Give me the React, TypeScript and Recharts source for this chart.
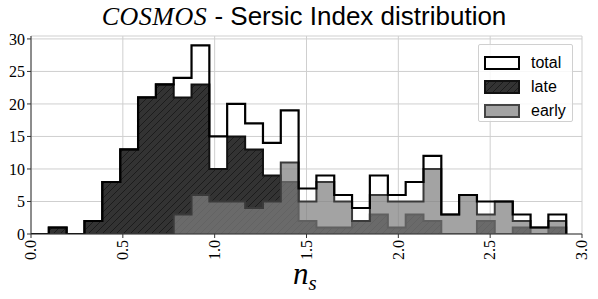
import React from 'react';
import { ComposedChart, Area, XAxis, YAxis, CartesianGrid } from 'recharts';

// Histogram bin edges (n_s)
const binEdges = [
  0, 0.097, 0.194, 0.291, 0.388, 0.486, 0.583, 0.68, 0.777, 0.874, 0.971,
  1.068, 1.166, 1.263, 1.36, 1.457, 1.554, 1.651, 1.748, 1.845, 1.943,
  2.04, 2.137, 2.234, 2.331, 2.428, 2.525, 2.623, 2.72, 2.817, 2.914,
];
// Counts per bin
const totalCounts = [0, 1, 0, 2, 8, 13, 21, 23, 24, 29, 15, 20, 17, 14, 19, 7, 9, 6, 4, 9, 6, 8, 12, 3, 6, 5, 5, 3, 1, 3];
const lateCounts = [0, 1, 0, 2, 8, 13, 21, 23, 21, 23, 10, 15, 13, 9, 8, 2, 1, 1, 2, 3, 1, 3, 2, 0, 0, 2, 0, 1, 0, 1];
const earlyCounts = [0, 0, 0, 0, 0, 0, 0, 0, 3, 6, 5, 5, 4, 5, 11, 5, 8, 5, 2, 6, 5, 5, 10, 3, 6, 3, 5, 2, 1, 2];

const xTicks = [0, 0.5, 1.0, 1.5, 2.0, 2.5, 3.0];
const yTicks = [0, 5, 10, 15, 20, 25, 30];
const legendLabels = ['total', 'late', 'early'];

const data = binEdges.map((x, i) => ({
  x,
  total: i < totalCounts.length ? totalCounts[i] : 0,
  late: i < lateCounts.length ? lateCounts[i] : 0,
  early: i < earlyCounts.length ? earlyCounts[i] : 0,
}));

const SERIF = '"Liberation Serif", "DejaVu Serif", serif';
const SANS = '"Liberation Sans", Arial, sans-serif';

const XTick = (props: any) => {
  const { x, y, payload } = props;
  return (
    <g transform={`translate(${x},${y})`}>
      <text
        transform="rotate(-90)"
        textAnchor="end"
        dy="0.33em"
        fontFamily={SERIF}
        fontSize={16}
        fill="#000"
      >
        {Number(payload.value).toFixed(1)}
      </text>
    </g>
  );
};

const LegendPatch = ({ kind }: { kind: string }) => {
  let fill = '#ffffff';
  let stroke = '#000';
  const sw = 2;
  if (kind === 'late') {
    fill = 'url(#hatchLate)';
    stroke = '#111';
  } else if (kind === 'early') {
    fill = '#a3a3a3';
    stroke = '#444';
  }
  return (
    <svg width={36} height={14} style={{ display: 'block' }}>
      <rect x={1} y={1} width={34} height={12} fill={fill} stroke={stroke} strokeWidth={sw} />
    </svg>
  );
};

export default function App() {
  return (
    <div style={{ position: 'absolute', left: 0, top: 0, width: 598, height: 299, background: '#fff' }}>
      <svg width={0} height={0} style={{ position: 'absolute' }}>
        <defs>
          <pattern id="hatchLate" patternUnits="userSpaceOnUse" width={7} height={7}>
            <rect x={0} y={0} width={7} height={7} fill="#333333" />
            <path d="M0,7 L7,0 M-1,1 L1,-1 M6,8 L8,6" stroke="#1c1c1c" strokeWidth={1} />
          </pattern>
        </defs>
      </svg>
      <div
        style={{
          position: 'absolute',
          left: 0,
          top: 0,
          width: 598,
          textAlign: 'center',
          fontSize: 26,
          lineHeight: '32px',
          whiteSpace: 'nowrap',
          paddingLeft: 10,
          boxSizing: 'border-box',
        }}
      >
        <span style={{ fontFamily: SERIF, fontStyle: 'italic', letterSpacing: 0.5 }}>COSMOS</span>
        <span style={{ fontFamily: SANS }}> - Sersic Index distribution</span>
      </div>
      <ComposedChart
        width={598}
        height={299}
        data={data}
        margin={{ top: 36, right: 16, bottom: 35, left: 0 }}
      >
        <CartesianGrid stroke="#cfcfcf" strokeWidth={1} horizontal vertical />
        <XAxis
          dataKey="x"
          type="number"
          domain={[0, 3]}
          ticks={xTicks}
          tick={<XTick />}
          height={30}
          tickSize={4}
          tickMargin={2}
          interval={0}
          stroke="#333"
          allowDataOverflow
        />
        <YAxis
          type="number"
          domain={[0, 30.45]}
          ticks={yTicks}
          width={31}
          tickSize={4}
          tickMargin={2}
          interval={0}
          stroke="#333"
          tick={{ fontFamily: SERIF, fontSize: 16, fill: '#000' }}
          allowDataOverflow
        />
        <Area
          dataKey="late"
          type="stepAfter"
          fill="url(#hatchLate)"
          fillOpacity={1}
          stroke="#111"
          strokeWidth={2}
          isAnimationActive={false}
          dot={false}
          activeDot={false}
        />
        <Area
          dataKey="early"
          type="stepAfter"
          fill="#808080"
          fillOpacity={0.72}
          stroke="#3a3a3a"
          strokeWidth={2}
          isAnimationActive={false}
          dot={false}
          activeDot={false}
        />
        <Area
          dataKey="total"
          type="stepAfter"
          fill="none"
          fillOpacity={0}
          stroke="#000"
          strokeWidth={2.2}
          isAnimationActive={false}
          dot={false}
          activeDot={false}
        />
      </ComposedChart>
      <div
        style={{
          position: 'absolute',
          left: 293,
          top: 258,
          fontFamily: SERIF,
          fontStyle: 'italic',
          fontSize: 31,
          lineHeight: '31px',
          whiteSpace: 'nowrap',
        }}
      >
        n<span style={{ fontSize: 21, position: 'relative', top: 6 }}>s</span>
      </div>
      <div
        style={{
          position: 'absolute',
          left: 478,
          top: 44,
          width: 95,
          height: 78,
          boxSizing: 'border-box',
          border: '1px solid #d0d0d0',
          borderRadius: 2,
          background: 'rgba(255,255,255,0.85)',
          paddingTop: 6,
        }}
      >
        {legendLabels.map((lab) => (
          <div
            key={lab}
            style={{ display: 'flex', alignItems: 'center', height: 24, paddingLeft: 5 }}
          >
            <LegendPatch kind={lab} />
            <span style={{ fontFamily: SANS, fontSize: 16, marginLeft: 11 }}>{lab}</span>
          </div>
        ))}
      </div>
    </div>
  );
}
